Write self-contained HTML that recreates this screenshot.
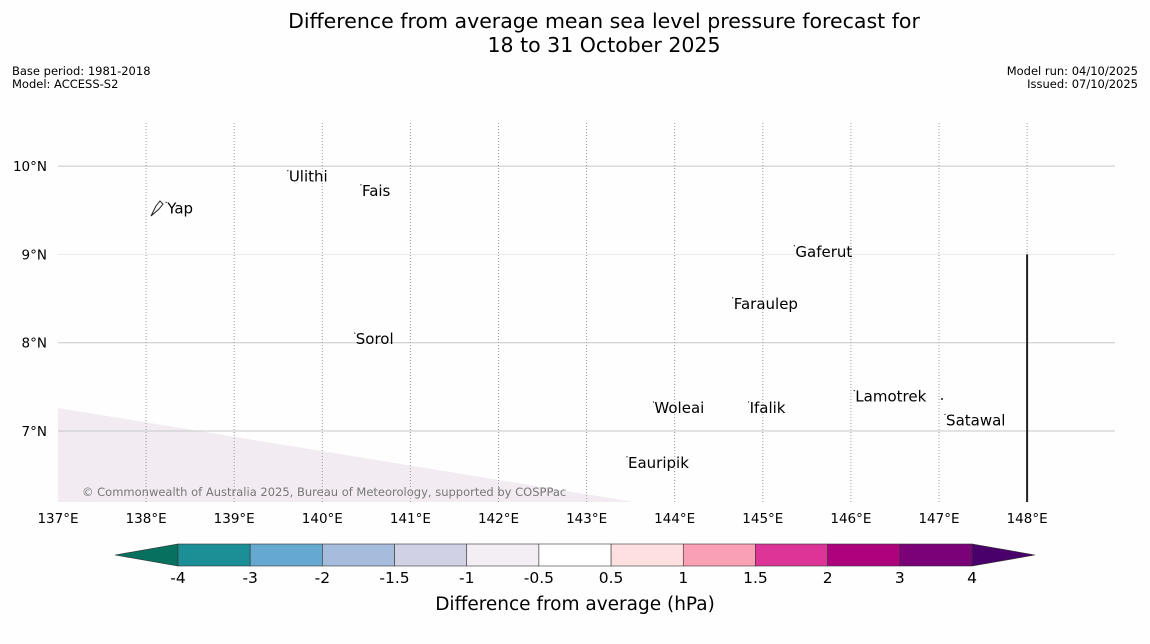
<!DOCTYPE html>
<html><head><meta charset="utf-8"><style>
body{margin:0;background:#fefefe;font-family:"DejaVu Sans","Liberation Sans",sans-serif;}
svg{display:block}
</style></head><body>
<svg id="c" width="1150" height="644" xmlns="http://www.w3.org/2000/svg" font-family="DejaVu Sans, Liberation Sans, sans-serif">
<rect width="1150" height="644" fill="#fefefe"/>
<text x="604" y="28" font-size="20.5" text-anchor="middle">Difference from average mean sea level pressure forecast for</text>
<text x="604" y="52" font-size="20.5" text-anchor="middle">18 to 31 October 2025</text>
<text x="12" y="75" font-size="11.5">Base period: 1981-2018</text>
<text x="12" y="88" font-size="11.5">Model: ACCESS-S2</text>
<text x="1138" y="75" font-size="11.5" text-anchor="end">Model run: 04/10/2025</text>
<text x="1138" y="88" font-size="11.5" text-anchor="end">Issued: 07/10/2025</text>
<g id="map"></g>
<g id="bar"></g>
</svg>
<script>
const lonTicks=[137,138,139,140,141,142,143,144,145,146,147,148];
const latTicks=[7,8,9,10];
const cbLevels=["-4","-3","-2","-1.5","-1","-0.5","0.5","1","1.5","2","3","4"];
const cbColors=["#1c8e96","#66a9d0","#a6bcdc","#d1d1e6","#f3edf4","#ffffff","#fde0df","#f9a0b5","#dc3497","#ad017e","#7a0177"];
const islands=["Yap","Ulithi","Fais","Gaferut","Faraulep","Sorol","Woleai","Ifalik","Lamotrek","Satawal","Eauripik"];
const islandLon=[138.24,139.62,140.45,145.37,144.67,140.38,143.77,144.85,146.05,147.08,143.47];
const islandLat=[9.52,9.88,9.72,9.03,8.44,8.04,7.26,7.26,7.39,7.12,6.64];
const NS="http://www.w3.org/2000/svg";
const X0=58,X1=1115,Y0=123,Y1=502;
const xS=l=>58+(l-137)*88.1;
const yS=a=>431-(a-7)*88.3;
function mk(t,a,p){const e=document.createElementNS(NS,t);for(const k in a)e.setAttribute(k,a[k]);(p||map).appendChild(e);return e;}
const map=document.getElementById('map');
const bar=document.getElementById('bar');
let sh=mk('polygon',{points:`${X0},408 634,${Y1} ${X0},${Y1}`,fill:'#f2ecf2'});


latTicks.forEach(a=>{
 let y=yS(a);
 let l=mk('line',{x1:X0,x2:X1,y1:y,y2:y,stroke:a==9?'#ece6ec':'#c8c8c8','stroke-width':1});
 
 
 let t=mk('text',{x:47,y:y+5,'font-size':13.5,'text-anchor':'end'});t.textContent=a+'°N';
 
 
});
lonTicks.forEach(l=>{
 let x=xS(l);
 if(l>137){let g=mk('line',{x1:x,x2:x,y1:Y0,y2:Y1,stroke:'#999','stroke-width':1,'stroke-dasharray':'1,2'});
 
 }
 let t=mk('text',{x:x,y:523,'font-size':13.5,'text-anchor':'middle'});t.textContent=l+'°E';
 
 
});
let vl=mk('line',{x1:xS(148),x2:xS(148),y1:yS(9),y2:Y1,stroke:'#222','stroke-width':2});


islands.forEach((n,i)=>{
 let x=xS(islandLon[i]),y=yS(islandLat[i]);
 let d=mk('circle',{cx:x-1,cy:y-6,r:0.7,fill:'#333'});
 
 
 let t=mk('text',{x:x,y:y+5,'font-size':15});t.textContent=n;
 
 
});
let ld=mk('circle',{cx:942,cy:399,r:1,fill:'#222'});


let yp=mk('path',{d:'M151,216 L156,206 L160,201 L163,204 L159,209 Z',fill:'none',stroke:'#222','stroke-width':1});


let cp=mk('text',{x:82,y:496,'font-size':11.5,fill:'#777'});cp.textContent='© Commonwealth of Australia 2025, Bureau of Meteorology, supported by COSPPac';


const CX0=178,CX1=972,CY0=544,CY1=566,n=cbColors.length,w=(CX1-CX0)/n;
let lt=mk('polygon',{points:`${CX0},${CY0} ${CX0},${CY1} 115,555`,fill:'#08705f',stroke:'#333','stroke-width':0.6},bar);


let rt=mk('polygon',{points:`${CX1},${CY0} ${CX1},${CY1} 1035,555`,fill:'#49006a',stroke:'#333','stroke-width':0.6},bar);


cbColors.forEach((c,i)=>{
 let r=mk('rect',{x:CX0+i*w,y:CY0,width:w,height:CY1-CY0,fill:c,stroke:'#333','stroke-width':0.6},bar);
 
 
});
cbLevels.forEach((v,i)=>{
 let t=mk('text',{x:CX0+i*w,y:583,'font-size':15.5,'text-anchor':'middle'},bar);t.textContent=v;
 
 
});
let ct=mk('text',{x:575,y:610,'font-size':18.5,'text-anchor':'middle'},bar);ct.textContent='Difference from average (hPa)';


</script>
</body></html>
